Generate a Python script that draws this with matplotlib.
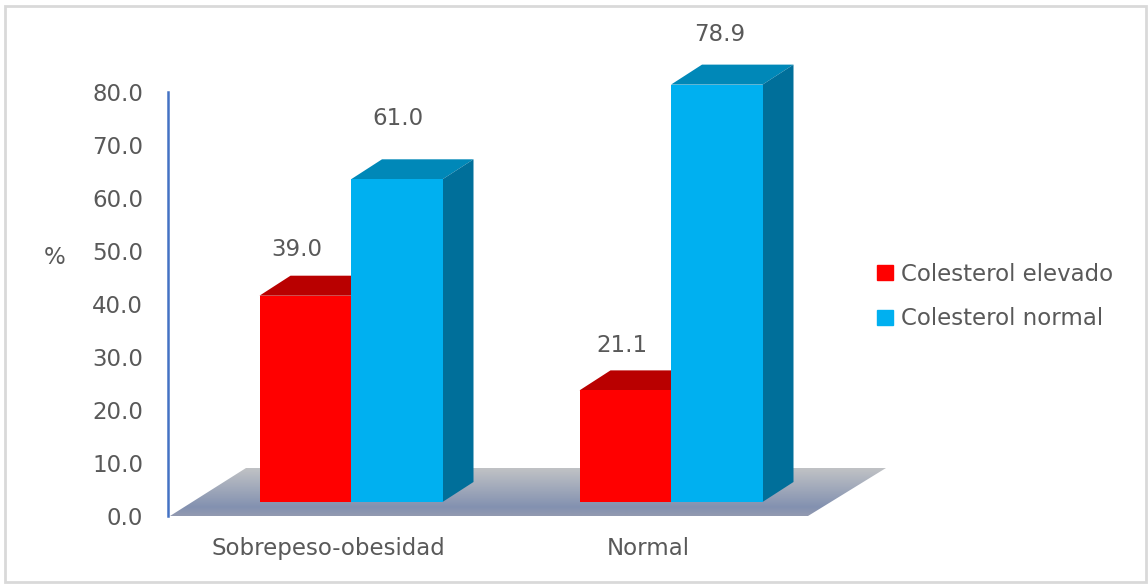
import numpy as np
import matplotlib
matplotlib.use('Agg')
import matplotlib.pyplot as plt
from matplotlib.patches import Polygon, Patch, Rectangle
from matplotlib.colors import LinearSegmentedColormap

categories = ['Sobrepeso-obesidad', 'Normal']
series_names = ['Colesterol elevado', 'Colesterol normal']
elevado = [39.0, 21.1]
normal = [61.0, 78.9]
y_ticks = [0, 10, 20, 30, 40, 50, 60, 70, 80]

W, H = 1148, 584
GROUP_PX = 320.0    # pixels between the two groups
UNIT_PX = 5.29      # pixels per percentage point
BAR_W = 91.5 / GROUP_PX
DX = 31 / GROUP_PX  # 3d depth of the bars
DY = 20 / UNIT_PX
TEXT = '#595959'
FS = 16.5

plt.rcParams['font.family'] = 'DejaVu Sans'
fig = plt.figure(figsize=(W / 100, H / 100), dpi=100)
fig.patch.set_facecolor('white')
fig.add_artist(Rectangle((5 / W, 2 / H), 1141 / W, 576 / H, transform=fig.transFigure,
                         fill=False, edgecolor='#d9d9d9', linewidth=2))

# main axes, group 0 centred at x=351px, bar base at y=502px
ax = fig.add_axes([168 / W, (H - 516) / H, (900 - 168) / W, 516 / H])
ax.set_xlim((168 - 351) / GROUP_PX, (900 - 351) / GROUP_PX)
ax.set_ylim(-14 / UNIT_PX, 502 / UNIT_PX)
ax.patch.set_alpha(0)
for s in ax.spines.values():
    s.set_visible(False)
ax.set_yticks([])

# floor with a vertical gradient
floor_front = -14 / UNIT_PX
floor_back = 34 / UNIT_PX
floor = Polygon([((170 - 351) / GROUP_PX, floor_front), ((808 - 351) / GROUP_PX, floor_front),
                 ((886 - 351) / GROUP_PX, floor_back), ((246 - 351) / GROUP_PX, floor_back)],
                closed=True, facecolor='none', edgecolor='none')
ax.add_patch(floor)
cmap = LinearSegmentedColormap.from_list('floor', [(0, '#c0c2c5'), (0.82, '#8391b0'), (1, '#929ab0')])
img = ax.imshow(np.linspace(0, 1, 64).reshape(-1, 1), cmap=cmap, aspect='auto',
                extent=(ax.get_xlim()[0], ax.get_xlim()[1], floor_front, floor_back),
                origin='upper', zorder=1)
img.set_clip_path(floor)
ax.set_xlim((168 - 351) / GROUP_PX, (900 - 351) / GROUP_PX)
ax.set_ylim(-14 / UNIT_PX, 502 / UNIT_PX)


def bar3d(x, value, front, top, side, z):
    ax.bar(x, value, BAR_W, color=front, zorder=z + 0.2)
    l, r = x - BAR_W / 2, x + BAR_W / 2
    ax.add_patch(Polygon([(l, value), (r, value), (r + DX, value + DY), (l + DX, value + DY)],
                         facecolor=top, edgecolor='none', zorder=z))
    ax.add_patch(Polygon([(r, 0), (r + DX, DY), (r + DX, value + DY), (r, value)],
                         facecolor=side, edgecolor='none', zorder=z))


x_pos = np.arange(len(categories))
for i in x_pos:
    bar3d(i - BAR_W / 2, elevado[i], '#ff0000', '#b90000', '#b90000', 2 + i)
    bar3d(i + BAR_W / 2, normal[i], '#00b0f0', '#0088b8', '#006f9a', 3 + i)

# value labels sit at different heights above each bar
elevado_offsets = [(-6, 33), (-2.5, 32)]
normal_offsets = [(1, 44), (2, 36)]
for i in x_pos:
    ax.annotate(f'{elevado[i]:.1f}', (i - BAR_W / 2, elevado[i]), xytext=elevado_offsets[i],
                textcoords='offset points', ha='center', va='center', fontsize=FS, color=TEXT,
                annotation_clip=False)
    ax.annotate(f'{normal[i]:.1f}', (i + BAR_W / 2, normal[i]), xytext=normal_offsets[i],
                textcoords='offset points', ha='center', va='center', fontsize=FS, color=TEXT,
                annotation_clip=False)

ax.set_xticks(x_pos - 23 / GROUP_PX)
ax.set_xticklabels(categories, fontsize=FS, color=TEXT)
ax.tick_params(axis='x', length=0, pad=15)

# value axis sits on the front edge of the floor
ax_val = fig.add_axes([168 / W, (H - 516) / H, 1 / W, 424 / H])
ax_val.set_ylim(0, 80)
ax_val.patch.set_alpha(0)
for name, s in ax_val.spines.items():
    s.set_visible(name == 'left')
ax_val.spines['left'].set_color('#4472c4')
ax_val.spines['left'].set_linewidth(1.8)
ax_val.set_xticks([])
ax_val.set_yticks(y_ticks)
ax_val.set_yticklabels([f'{t:.1f}' for t in y_ticks], fontsize=FS, color=TEXT)
ax_val.tick_params(axis='y', length=0, pad=18)

fig.text(55 / W, 1 - 258 / H, '%', fontsize=FS, color=TEXT, ha='center', va='center')

handles = [Patch(color='#ff0000', label=series_names[0]), Patch(color='#00b0f0', label=series_names[1])]
fig.legend(handles=handles, loc='center left', bbox_to_anchor=(856 / W, 1 - 296.5 / H), frameon=False,
           fontsize=FS, labelcolor=TEXT, handlelength=0.7, handleheight=0.6, handletextpad=0.36,
           labelspacing=0.95)

fig.savefig('out.png', dpi=100)
